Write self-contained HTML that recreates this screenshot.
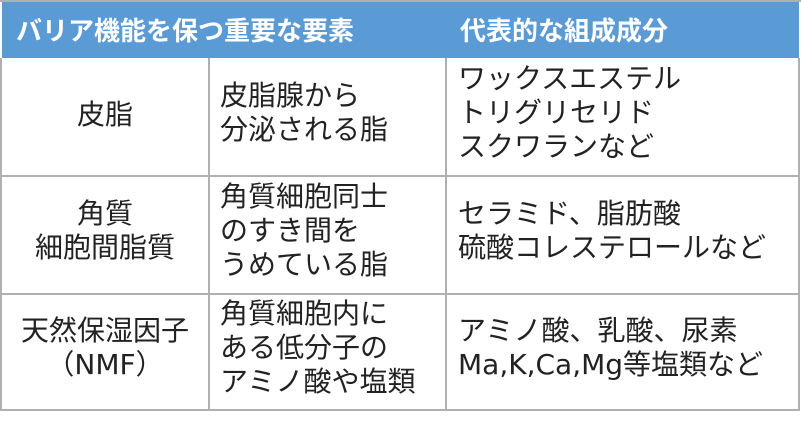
<!DOCTYPE html><html><head><meta charset="utf-8"><style>
body{margin:0;width:801px;height:422px;background:#fff;position:relative;overflow:hidden;font-family:"DejaVu Sans","Noto Sans CJK JP",sans-serif;color:#222}
.h{position:absolute;top:2px;height:56px;background:#5b9bd5;color:#fff;font-weight:bold;font-size:26px;line-height:56px}
.l{position:absolute;background:#b0b0b0}
.t{position:absolute;font-size:28px;line-height:34px;white-space:nowrap}
.c{text-align:center}
</style></head><body>
<div class="l" style="left:0;top:0;width:801px;height:2px"></div>
<div class="h" style="left:2px;width:797px"></div>
<div class="h" style="left:16px;background:none;font-family:'Noto Sans CJK JP',sans-serif">バリア機能を保つ重要な要素</div>
<div class="h" style="left:460px;background:none;font-family:'Noto Sans CJK JP',sans-serif">代表的な組成成分</div>
<div class="l" style="left:0;top:58px;width:2px;height:353px"></div>
<div class="l" style="left:798px;top:58px;width:2px;height:353px"></div>
<div class="l" style="left:208px;top:58px;width:2px;height:353px"></div>
<div class="l" style="left:445px;top:58px;width:2px;height:353px"></div>
<div class="l" style="left:0;top:175px;width:800px;height:2px"></div>
<div class="l" style="left:0;top:293px;width:800px;height:2px"></div>
<div class="l" style="left:0;top:409px;width:800px;height:2px"></div>
<div class="t c" style="left:2px;width:206px;top:98px">皮脂</div>
<div class="t" style="left:220px;top:79px">皮脂腺から<br>分泌される脂</div>
<div class="t" style="left:458px;top:62px">ワックスエステル<br>トリグリセリド<br>スクワランなど</div>
<div class="t c" style="left:2px;width:206px;top:197px">角質<br>細胞間脂質</div>
<div class="t" style="left:220px;top:180px">角質細胞同士<br>のすき間を<br>うめている脂</div>
<div class="t" style="left:458px;top:197px">セラミド、脂肪酸<br>硫酸コレステロールなど</div>
<div class="t c" style="left:2px;width:206px;top:314px">天然保湿因子<br>（NMF）</div>
<div class="t" style="left:220px;top:297px">角質細胞内に<br>ある低分子の<br>アミノ酸や塩類</div>
<div class="t" style="left:458px;top:314px">アミノ酸、乳酸、尿素<br>Ma,K,Ca,Mg等塩類など</div>
</body></html>
